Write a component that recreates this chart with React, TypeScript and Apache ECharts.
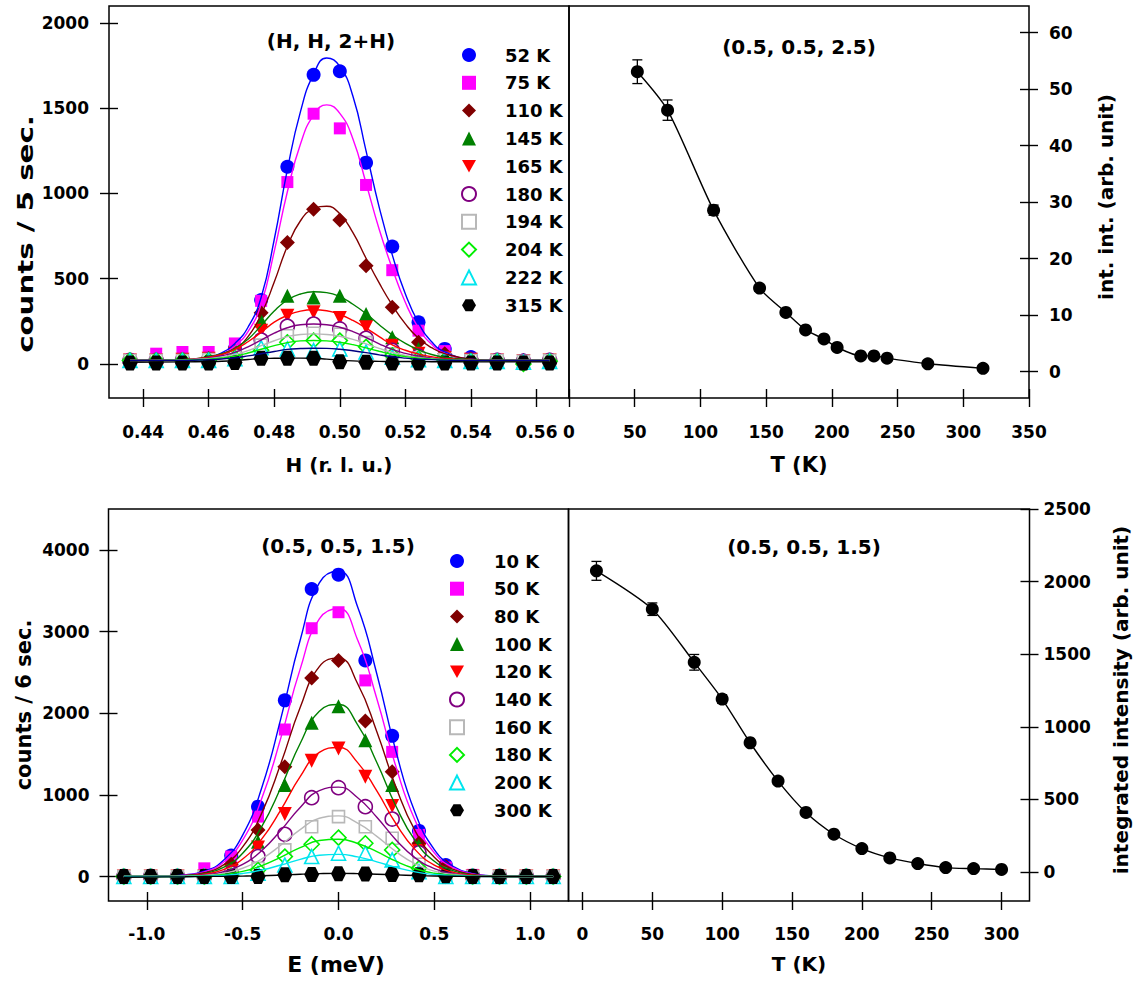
import React, { useEffect, useRef } from 'react';
import * as echarts from 'echarts';

// ---------------- DATA ----------------
// Top-left: H scans (H, H, 2+H)
const H_POINTS = [0.436, 0.444, 0.452, 0.46, 0.468, 0.476, 0.484, 0.492, 0.5, 0.508, 0.516, 0.524, 0.532, 0.54, 0.548, 0.556, 0.564];
const TOP_LABELS = ['52 K', '75 K', '110 K', '145 K', '165 K', '180 K', '194 K', '204 K', '222 K', '315 K'];
const P_52 = [25, 22, 30, 30, 90, 375, 1157, 1696, 1717, 1181, 689, 244, 88, 40, 25, 20, 25];
const P_75 = [25, 60, 70, 70, 120, 370, 1067, 1468, 1382, 1050, 550, 195, 75, 30, 25, 20, 20];
const P_110 = [15, 20, 25, 30, 70, 300, 712, 907, 845, 576, 332, 127, 60, 30, 20, 20, 20];
const P_145 = [20, 20, 25, 35, 80, 254, 400, 390, 400, 293, 156, 88, 40, 25, 20, 15, 20];
const P_165 = [20, 20, 25, 30, 60, 195, 283, 303, 269, 215, 107, 60, 35, 25, 20, 15, 20];
const P_180 = [20, 20, 20, 25, 50, 140, 221, 234, 205, 150, 80, 45, 30, 20, 20, 15, 20];
const P_194 = [20, 20, 20, 25, 40, 110, 165, 180, 175, 125, 60, 35, 25, 20, 20, 15, 20];
const P_204 = [20, 20, 20, 20, 35, 80, 127, 137, 137, 100, 50, 30, 20, 15, 15, 0, 15];
const P_222 = [20, 20, 20, 20, 30, 95, 88, 78, 88, 70, 40, 25, 20, 15, 15, 10, 15];
const P_315 = [5, 5, 5, 5, 8, 33, 33, 33, 12, 10, 5, 5, 5, 5, 5, 5, 5];

// fitted curves
const H_FIT = [0.436, 0.452, 0.46, 0.464, 0.468, 0.472, 0.476, 0.48, 0.484, 0.488, 0.492, 0.496, 0.5, 0.504, 0.508, 0.512, 0.516, 0.52, 0.524, 0.528, 0.532, 0.54, 0.548, 0.564];
const F_52 = [20, 22, 40, 65, 120, 215, 390, 730, 1140, 1480, 1700, 1795, 1745, 1570, 1250, 920, 640, 410, 240, 130, 70, 28, 20, 20];
const F_75 = [20, 22, 38, 58, 105, 190, 350, 660, 1010, 1290, 1460, 1520, 1470, 1320, 1060, 790, 560, 360, 210, 115, 62, 26, 20, 20];
const F_110 = [20, 24, 40, 58, 90, 160, 290, 480, 690, 840, 910, 925, 880, 770, 620, 475, 345, 235, 150, 95, 60, 28, 20, 20];
const F_145 = [20, 25, 42, 60, 90, 145, 225, 310, 375, 410, 423, 418, 395, 350, 295, 230, 170, 120, 82, 55, 40, 25, 20, 20];
const F_165 = [20, 25, 40, 55, 85, 130, 185, 245, 285, 310, 318, 312, 290, 255, 210, 160, 112, 80, 58, 42, 32, 22, 20, 20];
const F_180 = [20, 24, 35, 48, 68, 100, 140, 180, 212, 230, 234, 230, 215, 190, 155, 118, 85, 62, 45, 34, 27, 21, 20, 20];
const F_194 = [20, 23, 31, 40, 55, 78, 107, 136, 160, 173, 176, 173, 162, 144, 118, 91, 67, 50, 38, 30, 25, 21, 20, 20];
const F_204 = [20, 22, 28, 35, 46, 64, 86, 107, 125, 135, 137, 135, 127, 113, 94, 74, 55, 43, 34, 28, 24, 20, 20, 20];
const F_222 = [20, 21, 25, 29, 36, 47, 60, 73, 85, 90, 92, 91, 86, 77, 66, 53, 42, 34, 28, 25, 22, 20, 20, 20];
const F_315 = [10, 12, 14, 16, 20, 26, 31, 33, 34, 34, 33, 28, 22, 18, 16, 15, 14, 14, 14, 13, 13, 12, 12, 12];

// Top-right: integrated intensity (0.5, 0.5, 2.5)
const T_TOP = [52, 75, 110, 145, 165, 180, 194, 204, 222, 232, 242, 273, 315];
const INT_TOP = [53.1, 46.3, 28.6, 14.8, 10.5, 7.4, 5.8, 4.3, 2.8, 2.8, 2.4, 1.4, 0.6];
const ERR_TOP = [2.1, 1.8, 0.9, 0.5, 0.4, 0.3, 0.3, 0.3, 0.3, 0.3, 0.3, 0.3, 0.3];

// Bottom-left: E scans (0.5, 0.5, 1.5)
const E_POINTS = [-1.12, -0.98, -0.84, -0.7, -0.56, -0.42, -0.28, -0.14, 0, 0.14, 0.28, 0.42, 0.56, 0.7, 0.84, 0.98, 1.12];
const BOT_LABELS = ['10 K', '50 K', '80 K', '100 K', '120 K', '140 K', '160 K', '180 K', '200 K', '300 K'];
const Q_10 = [0, 0, 0, 20, 256, 855, 2157, 3520, 3696, 2646, 1722, 558, 140, 10, 0, 0, 0];
const Q_50 = [0, 0, 0, 100, 244, 733, 1800, 3040, 3236, 2401, 1526, 509, 110, 20, 0, 0, 0];
const Q_80 = [0, 0, 0, 10, 150, 570, 1343, 2430, 2646, 1905, 1282, 407, 122, 0, 0, 0, 0];
const Q_100 = [0, 0, 0, 10, 100, 427, 1119, 1884, 2084, 1669, 1119, 387, 80, 0, 0, 0, 0];
const Q_120 = [0, 0, 0, 0, 60, 354, 765, 1416, 1567, 1221, 863, 313, 50, 0, 0, 0, 0];
const Q_140 = [0, 0, 0, 0, 40, 244, 517, 965, 1087, 855, 704, 290, 30, 0, 0, 0, 0];
const Q_160 = [0, 0, 0, 0, 20, 100, 326, 610, 733, 610, 468, 150, 20, 0, 0, 0, 0];
const Q_180 = [0, 0, 0, 0, 10, 80, 244, 395, 476, 407, 326, 100, 10, 0, 0, 0, 0];
const Q_200 = [0, 0, 0, 0, 0, 40, 140, 244, 285, 285, 204, 60, 0, 0, 0, 0, 0];
const Q_300 = [0, 0, 0, 0, 0, 0, 20, 25, 33, 30, 25, 20, 10, 0, 0, 0, 0];

const E_FIT = [-1.12, -0.9, -0.8, -0.7, -0.6, -0.5, -0.4, -0.3, -0.2, -0.1, 0, 0.1, 0.2, 0.3, 0.4, 0.5, 0.6, 0.7, 0.8, 0.9, 1.12];
const G_10 = [0, 4, 19, 64, 199, 507, 1090, 1942, 2893, 3595, 3740, 3300, 2480, 1530, 780, 330, 120, 35, 8, 0, 0];
const G_50 = [0, 4, 17, 56, 175, 445, 957, 1704, 2539, 3155, 3282, 2896, 2177, 1343, 685, 290, 105, 31, 7, 0, 0];
const G_80 = [0, 3, 14, 46, 142, 362, 779, 1389, 2068, 2570, 2674, 2360, 1773, 1094, 558, 236, 86, 25, 6, 0, 0];
const G_100 = [0, 2, 11, 36, 112, 285, 614, 1093, 1629, 2024, 2106, 1858, 1396, 861, 439, 186, 68, 20, 5, 0, 0];
const G_120 = [0, 2, 8, 27, 84, 214, 460, 820, 1222, 1519, 1580, 1394, 1048, 646, 329, 139, 51, 15, 3, 0, 0];
const G_140 = [0, 1, 6, 19, 58, 148, 319, 568, 846, 1052, 1094, 965, 726, 448, 228, 97, 35, 10, 2, 0, 0];
const G_160 = [0, 0, 4, 13, 39, 101, 216, 385, 574, 713, 742, 654, 492, 304, 155, 66, 24, 7, 2, 0, 0];
const G_180 = [0, 0, 2, 8, 24, 62, 133, 238, 354, 440, 457, 404, 304, 187, 95, 40, 15, 4, 1, 0, 0];
const G_200 = [0, 0, 0, 5, 14, 37, 79, 141, 210, 261, 271, 240, 180, 111, 57, 24, 9, 2, 0, 0, 0];
const G_300 = [-10, -5, -3, 0, 2, 5, 10, 18, 28, 35, 38, 35, 28, 20, 12, 6, 3, 1, 0, 0, 0];

// Bottom-right: integrated intensity (0.5, 0.5, 1.5)
const T_BOT = [10, 50, 80, 100, 120, 140, 160, 180, 200, 220, 240, 260, 280, 300];
const INT_BOT = [2074, 1810, 1444, 1191, 890, 626, 410, 260, 161, 97, 58, 30, 23, 17];
const ERR_BOT = [65, 43, 54, 30, 20, 15, 10, 8, 6, 5, 5, 5, 5, 5];

// tick values
const X_TICKS_TL = [0.44, 0.46, 0.48, 0.5, 0.52, 0.54, 0.56];
const Y_TICKS_TL = [0, 500, 1000, 1500, 2000];
const X_TICKS_TR = [0, 50, 100, 150, 200, 250, 300, 350];
const Y_TICKS_TR = [0, 10, 20, 30, 40, 50, 60];
const X_TICKS_BL = [-1, -0.5, 0, 0.5, 1];
const Y_TICKS_BL = [0, 1000, 2000, 3000, 4000];
const X_TICKS_BR = [0, 50, 100, 150, 200, 250, 300];
const Y_TICKS_BR = [0, 500, 1000, 1500, 2000, 2500];

// ---------------- STYLES ----------------
const FONT = 'DejaVu Sans';
const HEX = 'path://M-10,0L-5,-8.66L5,-8.66L10,0L5,8.66L-5,8.66Z';
const INV_TRI = 'path://M-10,-9L10,-9L0,9Z';

const MARKERS = [
  { symbol: 'circle', size: 14, fill: '#0000ff', stroke: '#0000ff', bw: 0 },
  { symbol: 'rect', size: 12, fill: '#ff00ff', stroke: '#ff00ff', bw: 0 },
  { symbol: 'diamond', size: 15, fill: '#800000', stroke: '#800000', bw: 0 },
  { symbol: 'triangle', size: 14, fill: '#008000', stroke: '#008000', bw: 0 },
  { symbol: INV_TRI, size: 14, fill: '#ff0000', stroke: '#ff0000', bw: 0 },
  { symbol: 'circle', size: 14, fill: '#ffffff', stroke: '#800080', bw: 1.6 },
  { symbol: 'rect', size: 12, fill: '#ffffff', stroke: '#b8b8b8', bw: 1.6 },
  { symbol: 'diamond', size: 15, fill: '#ffffff', stroke: '#00ee00', bw: 1.6 },
  { symbol: 'triangle', size: 14, fill: '#ffffff', stroke: '#00e5ee', bw: 1.6 },
  { symbol: HEX, size: 15, fill: '#000000', stroke: '#000000', bw: 0 },
];
const TOP_LINE_COLORS = ['#0000ff', '#ff00ff', '#800000', '#008000', '#ff0000', '#800080', '#b8b8b8', '#00ee00', '#000080', '#000000'];
const BOT_LINE_COLORS = ['#0000ff', '#ff00ff', '#800000', '#008000', '#ff0000', '#800080', '#b8b8b8', '#00ee00', '#00e5ee', '#000000'];

const zip = (xs: number[], ys: number[]) => xs.map((x, i) => [x, ys[i]]);

function makeAxis(grid: number, min: number, max: number, ticks: number[], position: string, inside: boolean, label: any) {
  return {
    type: 'value',
    gridIndex: grid,
    min,
    max,
    position,
    axisLine: { show: false, onZero: false },
    splitLine: { show: false },
    axisTick: { show: true, inside, length: 9, customValues: ticks, lineStyle: { color: '#000', width: 1.4 } },
    axisLabel: label
      ? {
          show: true,
          customValues: ticks,
          color: '#000',
          fontFamily: FONT,
          fontWeight: 'bold',
          fontSize: label.size || 17,
          margin: label.margin,
          formatter: label.fmt,
        }
      : { show: false },
  };
}

function buildOption() {
  const grids = [
    { left: 109, top: 6, width: 460, height: 392 },
    { left: 569, top: 6, width: 460, height: 392 },
    { left: 108.5, top: 509, width: 460, height: 392 },
    { left: 568.5, top: 509, width: 461, height: 392 },
  ].map((g) => ({ ...g, show: true, borderColor: '#000', borderWidth: 1.5, backgroundColor: 'transparent', containLabel: false, outerBoundsMode: 'none' }));

  const fmt2 = (v: number) => v.toFixed(2);
  const fmt1 = (v: number) => v.toFixed(1);
  const fmt0 = (v: number) => String(Math.round(v));

  const xAxis = [
    makeAxis(0, 0.4296, 0.5699, X_TICKS_TL, 'bottom', false, { fmt: fmt2, margin: 25 }),
    makeAxis(1, 0, 350, X_TICKS_TR, 'bottom', false, { fmt: fmt0, margin: 25 }),
    makeAxis(2, -1.2, 1.2, X_TICKS_BL, 'bottom', false, { fmt: fmt1, margin: 24 }),
    makeAxis(3, -10, 320, X_TICKS_BR, 'bottom', false, { fmt: fmt0, margin: 24 }),
    makeAxis(0, 0.4296, 0.5699, X_TICKS_TL, 'bottom', true, null),
    makeAxis(1, 0, 350, X_TICKS_TR, 'bottom', true, null),
    makeAxis(2, -1.2, 1.2, X_TICKS_BL, 'bottom', true, null),
    makeAxis(3, -10, 320, X_TICKS_BR, 'bottom', true, null),
  ];
  const yAxis = [
    makeAxis(0, -200, 2100, Y_TICKS_TL, 'left', false, { fmt: fmt0, margin: 20 }),
    makeAxis(1, -4.65, 64.73, Y_TICKS_TR, 'right', false, { fmt: fmt0, margin: 20 }),
    makeAxis(2, -300, 4500, Y_TICKS_BL, 'left', false, { fmt: fmt0, margin: 19 }),
    makeAxis(3, -200, 2500, Y_TICKS_BR, 'right', false, { fmt: fmt0, margin: 14 }),
    makeAxis(0, -200, 2100, Y_TICKS_TL, 'left', true, null),
    makeAxis(1, -4.65, 64.73, Y_TICKS_TR, 'right', true, null),
    makeAxis(2, -300, 4500, Y_TICKS_BL, 'left', true, null),
    makeAxis(3, -200, 2500, Y_TICKS_BR, 'right', true, null),
  ];

  const topPts = [P_52, P_75, P_110, P_145, P_165, P_180, P_194, P_204, P_222, P_315];
  const topFits = [F_52, F_75, F_110, F_145, F_165, F_180, F_194, F_204, F_222, F_315];
  const botPts = [Q_10, Q_50, Q_80, Q_100, Q_120, Q_140, Q_160, Q_180, Q_200, Q_300];
  const botFits = [G_10, G_50, G_80, G_100, G_120, G_140, G_160, G_180, G_200, G_300];

  const topIds = TOP_LABELS.map((_, i) => 'top' + i);
  const botIds = BOT_LABELS.map((_, i) => 'bot' + i);
  const nameMap: Record<string, string> = {};
  topIds.forEach((id, i) => (nameMap[id] = TOP_LABELS[i]));
  botIds.forEach((id, i) => (nameMap[id] = BOT_LABELS[i]));

  const series: any[] = [];
  const addScan = (grid: number, xs: number[], pts: number[][], fx: number[], fits: number[][], colors: string[], ids: string[]) => {
    fits.forEach((f, i) => {
      series.push({
        type: 'line',
        name: 'fit-' + ids[i],
        xAxisIndex: grid,
        yAxisIndex: grid,
        data: zip(fx, f),
        showSymbol: false,
        symbol: 'none',
        smooth: 0.5,
        lineStyle: { color: colors[i], width: 1.4 },
        silent: true,
      });
    });
    pts.forEach((p, i) => {
      const m = MARKERS[i];
      series.push({
        type: 'scatter',
        name: ids[i],
        xAxisIndex: grid,
        yAxisIndex: grid,
        data: zip(xs, p),
        symbol: m.symbol,
        symbolSize: m.size,
        itemStyle: { color: m.fill, borderColor: m.stroke, borderWidth: m.bw, opacity: 1 },
        silent: true,
      });
    });
  };
  addScan(0, H_POINTS, topPts, H_FIT, topFits, TOP_LINE_COLORS, topIds);
  addScan(2, E_POINTS, botPts, E_FIT, botFits, BOT_LINE_COLORS, botIds);

  const errBars = (grid: number, ts: number[], vs: number[], es: number[]) => ({
    type: 'custom',
    xAxisIndex: grid,
    yAxisIndex: grid,
    data: ts.map((t, i) => [t, vs[i], es[i]]),
    silent: true,
    renderItem: (_p: any, api: any) => {
      const x = api.value(0);
      const y = api.value(1);
      const e = api.value(2);
      const a = api.coord([x, y + e]);
      const b = api.coord([x, y - e]);
      const w = 5;
      const st = { stroke: '#000', lineWidth: 1.3 };
      return {
        type: 'group',
        children: [
          { type: 'line', shape: { x1: a[0], y1: a[1], x2: b[0], y2: b[1] }, style: st },
          { type: 'line', shape: { x1: a[0] - w, y1: a[1], x2: a[0] + w, y2: a[1] }, style: st },
          { type: 'line', shape: { x1: b[0] - w, y1: b[1], x2: b[0] + w, y2: b[1] }, style: st },
        ],
      };
    },
  });
  const tLine = (grid: number, ts: number[], vs: number[]) => ({
    type: 'line',
    xAxisIndex: grid,
    yAxisIndex: grid,
    data: zip(ts, vs),
    smooth: 0.25,
    symbol: 'circle',
    symbolSize: 13,
    showSymbol: true,
    itemStyle: { color: '#000' },
    lineStyle: { color: '#000', width: 1.4 },
    silent: true,
  });
  series.push(errBars(1, T_TOP, INT_TOP, ERR_TOP));
  series.push(tLine(1, T_TOP, INT_TOP));
  series.push(errBars(3, T_BOT, INT_BOT, ERR_BOT));
  series.push(tLine(3, T_BOT, INT_BOT));

  const legendBase = {
    orient: 'vertical',
    itemWidth: 14,
    itemHeight: 14,
    padding: 0,
    selectedMode: false,
    formatter: (n: string) => nameMap[n],
    textStyle: { color: '#000', fontFamily: FONT, fontWeight: 'bold', fontSize: 18, padding: [0, 0, 0, 24] },
  };
  const legend = [
    { ...legendBase, data: topIds, left: 461, top: 46, itemGap: 9.8 },
    { ...legendBase, data: botIds, left: 449, top: 552, itemGap: 9.7, textStyle: { ...legendBase.textStyle, padding: [0, 0, 0, 25] } },
  ];

  const txt = (text: string, x: number, y: number, size: number, rot = 0, sx = 1) => ({
    type: 'text',
    x,
    y,
    rotation: rot,
    scaleX: sx,
    z: 50,
    silent: true,
    style: { text, fontSize: size, fontWeight: 'bold', fontFamily: FONT, fill: '#000', align: 'center', verticalAlign: 'middle' },
  });
  const R = Math.PI / 2;
  const graphic = {
    elements: [
      txt('counts / 5 sec.', 25, 234, 22, R, 1.33),
      txt('counts / 6 sec.', 24, 705, 21, R),
      txt('int. int. (arb. unit)', 1106, 197, 20, R),
      txt('integrated intensity (arb. unit)', 1121, 700, 20, R),
      txt('H (r. l. u.)', 339, 465, 20),
      txt('T (K)', 799, 465, 21),
      txt('E (meV)', 336, 964, 22),
      txt('T (K)', 799, 964, 20),
      txt('(H, H, 2+H)', 331, 41, 20),
      txt('(0.5, 0.5, 2.5)', 799, 47, 20),
      txt('(0.5, 0.5, 1.5)', 338, 546, 20),
      txt('(0.5, 0.5, 1.5)', 804, 547, 20),
    ],
  };

  return {
    animation: false,
    backgroundColor: '#ffffff',
    grid: grids,
    xAxis,
    yAxis,
    legend,
    series,
    graphic,
  };
}

export default function App() {
  const ref = useRef<HTMLDivElement>(null);
  useEffect(() => {
    if (!ref.current) return;
    const chart = echarts.init(ref.current, null, { renderer: 'svg', width: 1135, height: 985 });
    chart.setOption(buildOption() as any);
    return () => chart.dispose();
  }, []);
  return <div ref={ref} style={{ position: 'absolute', left: 0, top: 0, width: 1135, height: 985, background: '#fff' }} />;
}
